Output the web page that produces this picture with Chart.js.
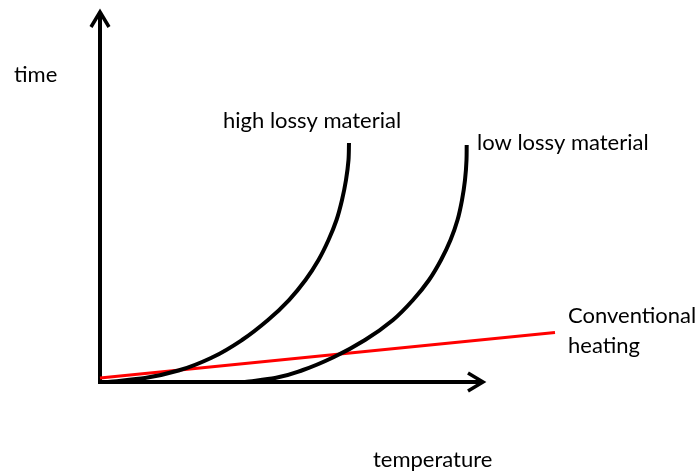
<!DOCTYPE HTML>
<html>
  <head>
    <script src="https://cdn.jsdelivr.net/npm/chart.js"></script>
    <style>
      body { margin: 0; background: #fff; }
    </style>
  </head>
  <body>
    <div style="position: relative; width: 697px; height: 472px;">
      <canvas id="heating-chart"></canvas>
    </div>

    <script>
      // schematic values (arbitrary units: temperature 0-100, time 0-100)
      const high_lossy_temp = [1.6, 9, 16, 22.6, 28.4, 33.6, 37.8, 41.1, 43.7, 45.7, 47.3, 48.4, 49.2, 49.7, 49.8];
      const high_lossy_time = [0, 1.08, 3.23, 6.72, 11.29, 16.67, 22.04, 27.42, 32.8, 38.17, 43.55, 48.92, 54.3, 59.68, 64.25];
      const low_lossy_temp = [29, 35, 40.6, 46.8, 53, 58.6, 62.6, 65.8, 68.2, 70.1, 71.5, 72.4, 73, 73.3, 73.34];
      const low_lossy_time = [0, 1.08, 3.23, 6.72, 11.29, 16.67, 22.04, 27.42, 32.8, 38.17, 43.55, 48.92, 54.3, 59.68, 63.7];
      const conventional_temp = [0, 91];
      const conventional_time = [1.1, 13.3];
      const x_axis_end = 77;
      const y_axis_end = 100;

      // text labels: [text, temperature, time] in the same units
      const notes = [
        ['time', -17.2, 80.6],
        ['high lossy material', 24.6, 68.3],
        ['low lossy material', 75.4, 62.4],
        ['Conventional', 93.6, 15.9],
        ['heating', 93.6, 7.8],
        ['temperature', 54.6, -22.8]
      ];

      function points(xs, ys) {
        return xs.map(function(x, i) { return {x: x, y: ys[i]}; });
      }

      function arrowHead(ctx, x, y, dx, dy) {
        // open chevron pointing along (dx, dy)
        const len = 15, half = 9;
        const px = -dy, py = dx;
        ctx.beginPath();
        ctx.moveTo(x - dx * len + px * half, y - dy * len + py * half);
        ctx.lineTo(x, y);
        ctx.lineTo(x - dx * len - px * half, y - dy * len - py * half);
        ctx.stroke();
      }

      const axes_plugin = {
        id: 'arrowAxes',
        beforeDatasetsDraw: function(chart) {
          const ctx = chart.ctx;
          const xs = chart.scales.x, ys = chart.scales.y;
          const ox = xs.getPixelForValue(0), oy = ys.getPixelForValue(0);
          const xe = xs.getPixelForValue(x_axis_end);
          const ye = ys.getPixelForValue(y_axis_end);
          ctx.save();
          ctx.strokeStyle = '#000';
          ctx.lineWidth = 4;
          ctx.beginPath();
          ctx.moveTo(ox, ye + 2);
          ctx.lineTo(ox, oy + 2);
          ctx.moveTo(ox - 2, oy);
          ctx.lineTo(xe - 2, oy);
          ctx.stroke();
          ctx.lineWidth = 3.5;
          arrowHead(ctx, ox, ye + 2, 0, -1);
          arrowHead(ctx, xe - 2, oy, 1, 0);
          ctx.restore();
        },
        afterDatasetsDraw: function(chart) {
          const ctx = chart.ctx;
          const xs = chart.scales.x, ys = chart.scales.y;
          ctx.save();
          ctx.fillStyle = '#000';
          ctx.font = '22px Lato';
          ctx.textBaseline = 'alphabetic';
          ctx.textAlign = 'left';
          notes.forEach(function(n) {
            ctx.fillText(n[0], xs.getPixelForValue(n[1]), ys.getPixelForValue(n[2]));
          });
          ctx.restore();
        }
      };

      const heating_context = document.getElementById("heating-chart");
      heating_chart = new Chart(heating_context, {
        type: 'scatter',
        data: {
          datasets: [{
            label: 'high lossy material',
            data: points(high_lossy_temp, high_lossy_time),
            showLine: true,
            borderColor: '#000',
            borderWidth: 4,
            pointRadius: 0,
            cubicInterpolationMode: 'monotone',
            clip: false
          }, {
            label: 'low lossy material',
            data: points(low_lossy_temp, low_lossy_time),
            showLine: true,
            borderColor: '#000',
            borderWidth: 4,
            pointRadius: 0,
            cubicInterpolationMode: 'monotone',
            clip: false
          }, {
            label: 'Conventional heating',
            data: points(conventional_temp, conventional_time),
            showLine: true,
            borderColor: '#ff0000',
            borderWidth: 3,
            pointRadius: 0,
            clip: false
          }]
        },
        options: {
          indexAxis: 'y',
          responsive: true,
          maintainAspectRatio: false,
          animation: false,
          layout: { padding: { left: 100, right: 97, top: 10, bottom: 90 } },
          plugins: {
            legend: { display: false },
            tooltip: { enabled: false }
          },
          scales: {
            x: { type: 'linear', min: 0, max: 100, display: false },
            y: { type: 'linear', min: 0, max: 100, display: false }
          }
        },
        plugins: [axes_plugin]
      });
    </script>
  </body>
</html>
